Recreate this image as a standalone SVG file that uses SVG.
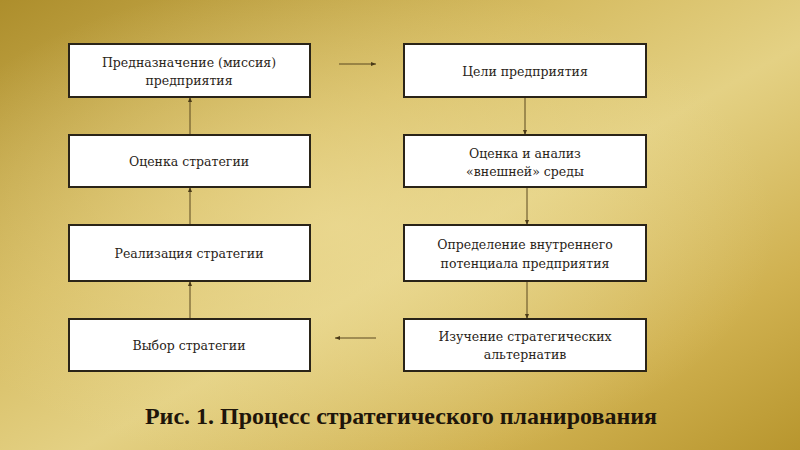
<svg xmlns="http://www.w3.org/2000/svg" width="800" height="450" viewBox="0 0 800 450">
<defs>
<linearGradient id="bg" x1="0" y1="0" x2="1" y2="1">
<stop offset="0" stop-color="#ad8e2c"/>
<stop offset="0.35" stop-color="#d6bc62"/>
<stop offset="0.55" stop-color="#e4d184"/>
<stop offset="0.8" stop-color="#d0b150"/>
<stop offset="1" stop-color="#b8962e"/>
</linearGradient>
<radialGradient id="hl" cx="0.42" cy="0.5" r="0.55">
<stop offset="0" stop-color="#eedd98" stop-opacity="0.7"/>
<stop offset="1" stop-color="#eedd98" stop-opacity="0"/>
</radialGradient>
<marker id="ah" markerWidth="6" markerHeight="6" refX="5" refY="3" orient="auto" markerUnits="userSpaceOnUse">
<path d="M0,1 L5,3 L0,5 z" fill="#4a3a18"/>
</marker>
<style>
.box{fill:#fff;stroke:#2a2418;stroke-width:2}
.t{font-family:"DejaVu Serif","Liberation Serif",serif;font-size:12.5px;fill:#2a2418;text-anchor:middle}
.c{stroke:#5a4820;stroke-width:1;fill:none;marker-end:url(#ah)}
.cap{font-family:"Liberation Serif","DejaVu Serif",serif;font-weight:bold;font-size:24px;fill:#1e150a;text-anchor:middle}
</style>
</defs>
<rect width="800" height="450" fill="url(#bg)"/>
<rect width="800" height="450" fill="url(#hl)"/>
<g id="connectors">
<path class="c" d="M339,64 H376"/>
<path class="c" d="M525,97 V135"/>
<path class="c" d="M527,187 V225"/>
<path class="c" d="M527,281 V319"/>
<path class="c" d="M376,338 H335"/>
<path class="c" d="M190,319 V281"/>
<path class="c" d="M190,225 V187"/>
<path class="c" d="M190,135 V97"/>
</g>
<g id="n1"><rect class="box" x="69" y="44" width="241" height="53"/><text class="t" x="189" y="67">Предназначение (миссия)</text><text class="t" x="189" y="85">предприятия</text></g>
<g id="n2"><rect class="box" x="404" y="44" width="242" height="53"/><text class="t" x="525" y="76">Цели предприятия</text></g>
<g id="n3"><rect class="box" x="404" y="135" width="242" height="52"/><text class="t" x="525" y="158">Оценка и анализ</text><text class="t" x="525" y="176">«внешней» среды</text></g>
<g id="n4"><rect class="box" x="404" y="225" width="242" height="56"/><text class="t" x="525" y="249">Определение внутреннего</text><text class="t" x="525" y="268">потенциала предприятия</text></g>
<g id="n5"><rect class="box" x="404" y="319" width="242" height="52"/><text class="t" x="525" y="341">Изучение стратегических</text><text class="t" x="525" y="359">альтернатив</text></g>
<g id="n6"><rect class="box" x="69" y="319" width="241" height="52"/><text class="t" x="189" y="350">Выбор стратегии</text></g>
<g id="n7"><rect class="box" x="69" y="225" width="241" height="56"/><text class="t" x="189" y="258">Реализация стратегии</text></g>
<g id="n8"><rect class="box" x="69" y="135" width="241" height="52"/><text class="t" x="189" y="166">Оценка стратегии</text></g>
<text class="cap" x="401" y="424">Рис. 1. Процесс стратегического планирования</text>
</svg>
